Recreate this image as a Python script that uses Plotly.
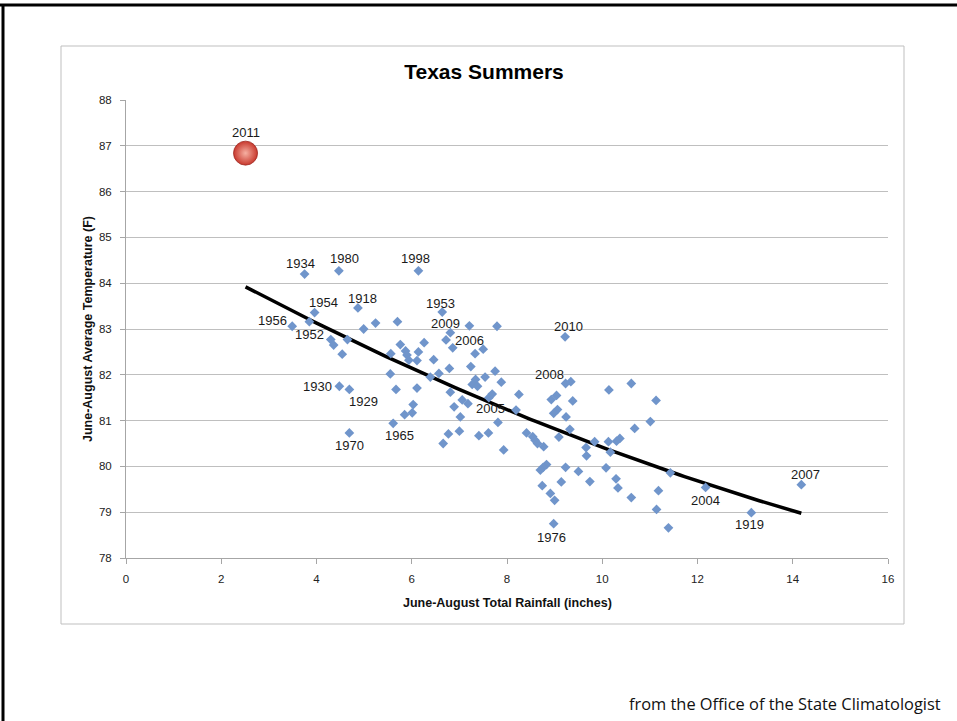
import numpy as np
import plotly.graph_objects as go

# ---------------- data ----------------
label_years = ["1934", "1980", "1998", "1954", "1918", "1953", "1956", "1952", "1930", "1929",
               "1970", "1965", "2009", "2006", "2010", "2008", "2005", "1976", "2004", "1919", "2007"]
label_rain = [3.75, 4.47, 6.14, 3.96, 4.87, 6.64, 3.49, 3.85, 4.48, 4.69,
              4.69, 5.61, 6.81, 7.33, 9.22, 9.23, 7.69, 8.98, 12.17, 13.13, 14.18]
label_temp = [84.20, 84.27, 84.27, 83.36, 83.46, 83.37, 83.06, 83.16, 81.75, 81.68,
              80.73, 80.94, 82.92, 82.46, 82.83, 81.81, 81.58, 78.75, 79.54, 78.99, 79.60]

other_rain = [4.30, 4.36, 4.54, 4.65, 4.99, 5.24, 5.70, 5.56, 5.76, 5.87, 5.90, 5.94, 6.14, 6.11,
              6.26, 6.46, 5.55, 5.67, 6.11, 6.03, 6.01, 5.85, 6.39, 6.57, 6.79, 6.66, 6.77, 7.00,
              7.02, 6.89, 6.81, 7.06, 7.18, 6.72, 6.86, 7.21, 7.50, 7.24, 7.34, 7.27, 7.38, 7.54,
              7.75, 7.79, 7.88, 7.62, 7.81, 7.41, 7.61, 7.93, 8.25, 8.19, 8.41, 8.54, 8.59, 8.64,
              8.77, 9.34, 9.04, 8.93, 9.38, 9.06, 8.98, 9.24, 9.32, 9.09, 8.83, 8.76, 8.70, 9.23,
              9.50, 9.14, 8.74, 8.91, 9.00, 9.66, 9.84, 9.67, 10.14, 10.61, 11.13, 11.01, 10.68,
              10.37, 10.30, 10.13, 10.17, 10.08, 9.74, 10.29, 10.33, 10.61, 11.18, 11.14, 11.39,
              11.43]
other_temp = [82.77, 82.65, 82.45, 82.77, 83.00, 83.13, 83.16, 82.46, 82.66, 82.52, 82.43, 82.32,
              82.50, 82.31, 82.70, 82.33, 82.02, 81.68, 81.71, 81.35, 81.17, 81.13, 81.95, 82.03,
              82.14, 80.50, 80.71, 80.77, 81.08, 81.30, 81.62, 81.45, 81.37, 82.76, 82.59, 83.07,
              82.56, 82.18, 81.90, 81.79, 81.75, 81.95, 82.08, 83.06, 81.84, 81.50, 80.96, 80.67,
              80.73, 80.36, 81.57, 81.23, 80.73, 80.65, 80.57, 80.50, 80.43, 81.85, 81.55, 81.46,
              81.43, 81.24, 81.16, 81.08, 80.81, 80.64, 80.04, 79.98, 79.92, 79.98, 79.89, 79.66,
              79.58, 79.41, 79.26, 80.41, 80.54, 80.23, 81.67, 81.81, 81.44, 80.98, 80.83, 80.61,
              80.55, 80.54, 80.31, 79.97, 79.67, 79.73, 79.53, 79.32, 79.47, 79.06, 78.66, 79.86]

highlight_year = "2011"
highlight_rain = [2.51]
highlight_temp = [86.84]

x_ticks = [0, 2, 4, 6, 8, 10, 12, 14, 16]
y_ticks = [78, 79, 80, 81, 82, 83, 84, 85, 86, 87, 88]

# ---------------- styling / layout (not data) ----------------
# label offsets in pixels (dx right, dy down) from each point
label_offsets = {
    "1934": (-4, -11), "1980": (6, -12), "1998": (-3, -12), "1954": (9, -10),
    "1918": (5, -9), "1953": (-2, -9), "1956": (-20, -6), "1952": (0, 13),
    "1930": (-22, 0), "1929": (14, 12), "1970": (0, 13), "1965": (6, 12),
    "2009": (-5, -9), "2006": (-6, -13), "2010": (3, -10), "2008": (-16, -9),
    "2005": (-2, 14), "1976": (-2, 14), "2004": (0, 13), "1919": (-2, 12),
    "2007": (4, -10), "2011": (0, -21),
}

ARIAL = "Liberation Sans, Arial, sans-serif"
W, H = 957, 721
L, R, T, B = 126, 888, 100, 558  # plot area in pixels


def px_x(p):
    return (p - L) / (R - L)


def px_y(p):
    return (B - p) / (B - T)


# quadratic trend line fitted to the regular years (2011 shown separately)
fit_rain = np.array(label_rain + other_rain)
fit_temp = np.array(label_temp + other_temp)
coef = np.polyfit(fit_rain, fit_temp, 2)
tx = np.linspace(min(highlight_rain + label_rain + other_rain), fit_rain.max(), 120)
ty = np.polyval(coef, tx)

fig = go.Figure()

fig.add_trace(go.Scatter(
    x=tx, y=ty, mode="lines", line=dict(color="black", width=3.5),
    hoverinfo="skip", showlegend=False))

fig.add_trace(go.Scatter(
    x=other_rain + label_rain, y=other_temp + label_temp, mode="markers",
    marker=dict(symbol="diamond", size=7.5, color="#7095CB", line=dict(width=0)),
    showlegend=False))

fig.add_trace(go.Scatter(
    x=highlight_rain, y=highlight_temp, mode="markers",
    marker=dict(symbol="circle", size=24, color="#C8392E",
                gradient=dict(type="radial", color="#F6B0A2"),
                line=dict(color="#9E2A22", width=0.8)),
    showlegend=False))

annotations = []
for yr, xr, yt in zip(label_years + [highlight_year],
                      label_rain + highlight_rain,
                      label_temp + highlight_temp):
    dx, dy = label_offsets[yr]
    annotations.append(dict(
        x=xr, y=yt, xref="x", yref="y", text=yr, showarrow=False,
        xanchor="center", yanchor="middle",
        xshift=dx, yshift=-dy, font=dict(family=ARIAL, size=13, color="#1a1a1a")))

annotations.append(dict(
    x=px_x(507), y=px_y(603), xref="paper", yref="paper",
    xanchor="center", yanchor="middle",
    text="<b>June-August Total Rainfall (inches)</b>", showarrow=False,
    font=dict(family=ARIAL, size=12.5, color="#111")))
annotations.append(dict(
    x=px_x(88), y=0.5, xref="paper", yref="paper", textangle=-90,
    xanchor="center", yanchor="middle",
    text="<b>June-August Average Temperature (F)</b>", showarrow=False,
    font=dict(family=ARIAL, size=12.5, color="#111")))
annotations.append(dict(
    x=px_x(785), y=px_y(703), xref="paper", yref="paper",
    xanchor="center", yanchor="middle",
    text="from the Office of the State Climatologist", showarrow=False,
    font=dict(family="Open Sans, sans-serif", size=16.4, color="#111")))

shapes = [
    dict(type="rect", xref="paper", yref="paper", layer="below",
         x0=px_x(61), x1=px_x(904), y0=px_y(624), y1=px_y(46),
         line=dict(color="#BFBFBF", width=1), fillcolor="white"),
    dict(type="line", xref="paper", yref="paper",
         x0=px_x(0), x1=px_x(W), y0=px_y(5), y1=px_y(5),
         line=dict(color="black", width=3)),
    dict(type="line", xref="paper", yref="paper",
         x0=px_x(3), x1=px_x(3), y0=px_y(H), y1=px_y(5),
         line=dict(color="black", width=3)),
]

fig.update_layout(
    width=W, height=H, autosize=False,
    margin=dict(l=L, r=W - R, t=T, b=H - B, pad=0),
    paper_bgcolor="white", plot_bgcolor="rgba(0,0,0,0)",
    title=dict(text="<b>Texas Summers</b>", x=484 / W, y=1 - 72 / H,
               xref="container", yref="container", xanchor="center", yanchor="middle",
               font=dict(family=ARIAL, size=21, color="black")),
    xaxis=dict(range=[0, 16], tickvals=x_ticks, ticktext=[str(v) for v in x_ticks],
               showgrid=False, zeroline=False, showline=True, linecolor="#A6A6A6",
               ticks="outside", ticklen=5, tickcolor="#A6A6A6", ticklabelstandoff=5,
               tickfont=dict(family=ARIAL, size=11.5, color="#222")),
    yaxis=dict(range=[78, 88], tickvals=y_ticks, ticktext=[str(v) for v in y_ticks],
               showgrid=True, gridcolor="#BFBFBF", gridwidth=1, zeroline=False,
               showline=True, linecolor="#A6A6A6", ticks="outside", ticklen=5,
               tickcolor="#A6A6A6", ticklabelstandoff=6,
               tickfont=dict(family=ARIAL, size=11.5, color="#222")),
    annotations=annotations, shapes=shapes, showlegend=False,
)

fig.write_html(
    "out.html",
    config={"displayModeBar": False},
    post_script="document.body.style.margin='0px';document.body.style.overflow='hidden';",
)
